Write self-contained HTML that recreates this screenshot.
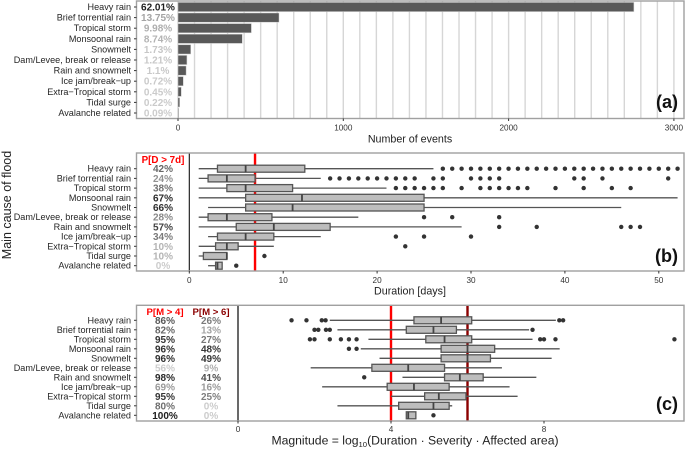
<!DOCTYPE html>
<html lang="en">
<head>
<meta charset="utf-8">
<title>Flood causes</title>
<style>
html,body{margin:0;padding:0;background:#fff;width:685px;height:449px;overflow:hidden}
svg{display:block;font-family:"Liberation Sans",sans-serif}
</style>
</head>
<body>
<svg id="chart" width="685" height="449" viewBox="0 0 685 449" xmlns="http://www.w3.org/2000/svg"></svg>
<script>
// ---------- shared categories ----------
const categories = ["Heavy rain","Brief torrential rain","Tropical storm","Monsoonal rain","Snowmelt","Dam/Levee, break or release","Rain and snowmelt","Ice jam/break\u2212up","Extra\u2212Tropical storm","Tidal surge","Avalanche related"];

// ---------- panel a ----------
const eventCounts = [2758,611,444,389,77,54,49,32,20,10,4];
const eventShares = [62.01,13.75,9.98,8.74,1.73,1.21,1.1,0.72,0.45,0.22,0.09];
const eventTicks = [0,1000,2000,3000];
const eventGrid = [0,100,200,300,400,500,600,700,800,900,1000,1100,1200,1300,1400,1500,1600,1700,1800,1900,2000,2100,2200,2300,2400,2500,2600,2700,2800,2900,3000];

// ---------- panel b ----------
const durationLow = [1,1,1,1,2,1,1,2,1,1,2];
const durationQ1 = [3,2,4,6,6,2,5,3,2.8,1.5,2.8];
const durationMedian = [6,4,6,12,11,4,9,6,4,4,3];
const durationQ3 = [12.3,7,11,25,25,8.8,15,9,5.2,4,3.5];
const durationHigh = [26,14,21,52,46,18,29,14,9,4,3.5];
const durationOutliers = [
  [27,28,29,30,31,32,33,34,35,36,37,38,39,40,41,42,43,44,45,46,47,48,49,50,51,52],
  [15,16,17,18,19,20,21,22,23,24,26,27,30,31,32,33,41,42,44,51],
  [22,23,24,25,26,27,29,31,32,33,34,35,36,39,42,45,47],
  [],[],
  [25,28,33],
  [33,37,46,47,48],
  [22,25,30],
  [23],
  [8],
  [5]
];
const probDuration = [42,24,38,67,66,28,57,34,10,10,0];
const durationTicks = [0,10,20,30,40,50];
const durationThreshold = 7;

// ---------- panel c ----------
const magnitudeLow = [2.4,2.6,3.41,3.21,3.7,1.9,4.3,2.2,4.0,2.6,4.4];
const magnitudeQ1 = [4.6,4.4,4.91,5.31,5.31,3.5,5.4,3.9,4.88,4.2,4.4];
const magnitudeMedian = [5.31,5.11,5.4,6.0,6.0,4.45,5.8,4.6,5.25,5.11,4.45];
const magnitudeQ3 = [6.11,5.71,6.11,6.71,6.6,5.4,6.41,5.52,5.96,5.52,4.65];
const magnitudeHigh = [8.31,7.61,7.7,8.41,8.2,6.9,7.8,7.1,7.31,5.6,4.65];
const magnitudeOutliers = [
  [1.4,1.79,2.19,2.29,8.4,8.5],
  [2.0,2.1,2.3,2.4,7.7],
  [1.88,2.0,2.4,2.69,2.9,3.1,7.9,8.0,8.3,11.41],
  [2.9,3.1],
  [],[],
  [3.3],
  [],[],[],
  [5.11]
];
const probMagnitude4 = [86,82,95,96,96,56,98,69,95,80,100];
const probMagnitude6 = [26,13,27,48,49,9,41,16,25,0,0];
const magnitudeTicks = [0,4,8];
const magnitudeThresholdLow = 4;
const magnitudeThresholdHigh = 6;

// ---------- helpers ----------
const root = document.getElementById('chart');
const NS = 'http://www.w3.org/2000/svg';
function make(tag, attrs, text){
  const el = document.createElementNS(NS, tag);
  for (const k in attrs) el.setAttribute(k, attrs[k]);
  if (text !== undefined) el.textContent = text;
  root.appendChild(el);
  return el;
}
function slug(s){ return s.toLowerCase().replace(/[^a-z0-9]+/g,'-'); }
function grey(v){ const g = Math.max(30, Math.min(204, Math.round(v))); return 'rgb('+g+','+g+','+g+')'; }

const PANEL_L = 136.5, PANEL_R = 684;
const xA = v => 178 + v * 0.1653;
const yA = i => 7 + i * 10.6;
const xB = v => 189.3 + v * 9.39;
const yB = i => 168.7 + i * 9.7;
const xC = v => 238 + v * 38.25;
const yC = i => 320.3 + i * 9.5;

function panelFrame(name, top, bottom){
  const el = make('rect',{x:PANEL_L,y:top,width:PANEL_R-PANEL_L,height:bottom-top,fill:'none',stroke:'#a0a0a0','stroke-width':1.4});
  
  
}
function categoryAxis(panel, yFn){
  categories.forEach((c,i)=>{
    const y = yFn(i);
    const t = make('line',{x1:PANEL_L-2.5,x2:PANEL_L,y1:y,y2:y,stroke:'#333','stroke-width':1});
    
    
    const l = make('text',{x:PANEL_L-5.5,y:y+3,'text-anchor':'end','font-size':9.1,fill:'#262626'},c);
    
    
  });
}
function valueAxis(panel, ticks, xFn, bottom, labelY){
  ticks.forEach(v=>{
    const x = xFn(v);
    const t = make('line',{x1:x,x2:x,y1:bottom,y2:bottom+2.5,stroke:'#333','stroke-width':1});
    
    
    const l = make('text',{x:x,y:labelY,'text-anchor':'middle','font-size':8.2,fill:'#333'},String(v));
    
    
  });
}
function percentColumn(name, values, suffix, x, yFn, colorFn){
  values.forEach((v,i)=>{
    const t = make('text',{x:x,y:yFn(i)+3.5,'text-anchor':'middle','font-size':10,'font-weight':'bold',fill:grey(colorFn(v))},v+suffix);
    
    
  });
}
function boxes(panel, xFn, yFn, low, q1, med, q3, high, outliers){
  categories.forEach((c,i)=>{
    const y = yFn(i);
    const w = make('line',{x1:xFn(low[i]),x2:xFn(high[i]),y1:y,y2:y,stroke:'#555','stroke-width':1.3});
    
    
    const b = make('rect',{x:xFn(q1[i]),y:y-3.5,width:xFn(q3[i])-xFn(q1[i]),height:7,fill:'#bdbdbd',stroke:'#555','stroke-width':1.3});
    
    
    const m = make('line',{x1:xFn(med[i]),x2:xFn(med[i]),y1:y-3.5,y2:y+3.5,stroke:'#444','stroke-width':1.8});
    
    
    outliers[i].forEach(v=>{
      const d = make('circle',{cx:xFn(v),cy:y,r:2.2,fill:'#333'});
      
      
    });
  });
}
function vline(name, x, top, bottom, color, width){
  const el = make('line',{x1:x,x2:x,y1:top,y2:bottom,stroke:color,'stroke-width':width});
  
  
}
function label(name, x, y, size, anchor, str, color, weight){
  const el = make('text',{x:x,y:y,'font-size':size,'text-anchor':anchor,fill:color,'font-weight':weight||'normal'},str);
  
  
  return el;
}

// ---------- panel a draw ----------
const A_TOP = 1, A_BOTTOM = 118.5;
eventGrid.forEach(v=>{
  vline('events-gridline', xA(v), A_TOP, A_BOTTOM, '#d6d6d6', 1.4);
});
eventCounts.forEach((v,i)=>{
  const b = make('rect',{x:xA(0),y:yA(i)-4.6,width:xA(v)-xA(0),height:9.2,fill:'#595959',stroke:'#cfcfcf','stroke-width':0.5});
  
  
});
panelFrame('panel-a-frame', A_TOP, A_BOTTOM);
categoryAxis('panel-a', yA);
valueAxis('panel-a', eventTicks, xA, A_BOTTOM, 130.5);
percentColumn('share', eventShares, '%', 158, yA, v=>204-2.9*v);
label('x-axis-title-events', 410, 142.7, 10.7, 'middle', 'Number of events', '#222');
label('panel-a-tag', 678, 108, 18, 'end', '(a)', '#111', 'bold');

// ---------- panel b draw ----------
const B_TOP = 153, B_BOTTOM = 271;
vline('duration-threshold-line', xB(durationThreshold), B_TOP, B_BOTTOM, '#ff0000', 2.4);
vline('duration-zero-line', xB(0), B_TOP, B_BOTTOM, '#111', 1.1);
boxes('duration', xB, yB, durationLow, durationQ1, durationMedian, durationQ3, durationHigh, durationOutliers);
panelFrame('panel-b-frame', B_TOP, B_BOTTOM);
categoryAxis('panel-b', yB);
valueAxis('panel-b', durationTicks, xB, B_BOTTOM, 283);
label('duration-probability-header', 163, 163, 9.8, 'middle', 'P[D > 7d]', '#ff0000', 'bold');
percentColumn('prob-duration', probDuration, '%', 163, yB, v=>204-2.4*v);
label('x-axis-title-duration', 410, 294.7, 10.7, 'middle', 'Duration [days]', '#222');
label('panel-b-tag', 678, 262, 18, 'end', '(b)', '#111', 'bold');

// ---------- panel c draw ----------
const C_TOP = 305.3, C_BOTTOM = 421;
vline('magnitude-threshold-4-line', xC(magnitudeThresholdLow), C_TOP, C_BOTTOM, '#ff0000', 2.4);
vline('magnitude-threshold-6-line', xC(magnitudeThresholdHigh), C_TOP, C_BOTTOM, '#8b0000', 2.4);
vline('magnitude-zero-line', xC(0), C_TOP, C_BOTTOM, '#444', 1.6);
boxes('magnitude', xC, yC, magnitudeLow, magnitudeQ1, magnitudeMedian, magnitudeQ3, magnitudeHigh, magnitudeOutliers);
panelFrame('panel-c-frame', C_TOP, C_BOTTOM);
categoryAxis('panel-c', yC);
valueAxis('panel-c', magnitudeTicks, xC, C_BOTTOM, 432);
label('magnitude-4-header', 165, 315, 9.6, 'middle', 'P[M > 4]', '#ff0000', 'bold');
label('magnitude-6-header', 211, 315, 9.6, 'middle', 'P[M > 6]', '#8b0000', 'bold');
percentColumn('prob-magnitude-4', probMagnitude4, '%', 165, yC, v=>204-3.9*(v-56));
percentColumn('prob-magnitude-6', probMagnitude6, '%', 211, yC, v=>204-3.1*v);
label('panel-c-tag', 678, 410, 18, 'end', '(c)', '#111', 'bold');

// ---------- magnitude title with subscript ----------
const magTitle = label('x-axis-title-magnitude', 415, 444.7, 12.2, 'middle', 'Magnitude = log', '#222');
const sub = document.createElementNS(NS,'tspan');
sub.setAttribute('dy','2.5');
sub.setAttribute('font-size','7.7');
sub.textContent = '10';
magTitle.appendChild(sub);
const rest = document.createElementNS(NS,'tspan');
rest.setAttribute('dy','-2.5');
rest.textContent = '(Duration \u00B7 Severity \u00B7 Affected area)';
magTitle.appendChild(rest);

// ---------- shared y title ----------
const yTitle = label('y-axis-title', 0, 0, 12.5, 'middle', 'Main cause of flood', '#222');
yTitle.setAttribute('transform','translate(11,205) rotate(-90)');
</script>
</body>
</html>
